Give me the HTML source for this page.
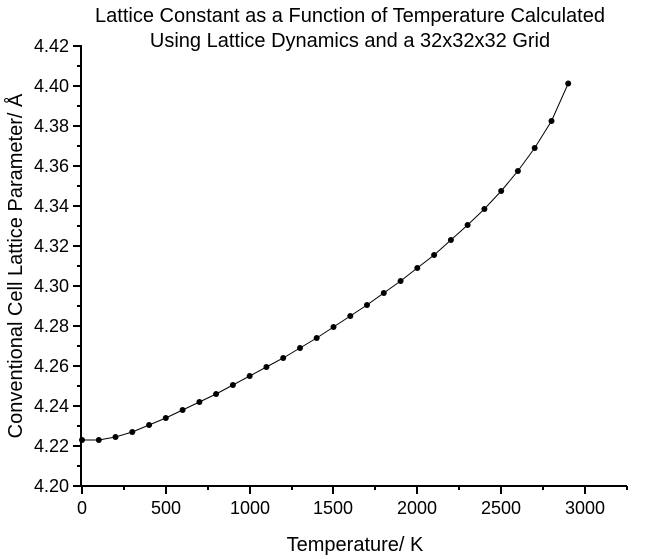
<!DOCTYPE html>
<html><head><style>body{margin:0;background:#fff}svg{display:block;font-family:"Liberation Sans",Arial,sans-serif}</style></head><body>
<svg width="666" height="559" viewBox="0 0 666 559">
<text x="350" y="22" font-size="20" text-anchor="middle">Lattice Constant as a Function of Temperature Calculated</text>
<text x="350" y="47" font-size="20" text-anchor="middle">Using Lattice Dynamics and a 32x32x32 Grid</text>
<g stroke="#000" stroke-width="2" fill="none">
<path d="M81,45V487M80,486H627"/>
<path d="M81,46h-8M81,86h-8M81,126h-8M81,166h-8M81,206h-8M81,246h-8M81,286h-8M81,326h-8M81,366h-8M81,406h-8M81,446h-8M81,486h-8"/>
<path d="M81,66h-4M81,106h-4M81,146h-4M81,186h-4M81,226h-4M81,266h-4M81,306h-4M81,346h-4M81,386h-4M81,426h-4M81,466h-4"/>
<path d="M82,486v8M166,486v8M250,486v8M333,486v8M417,486v8M501,486v8M585,486v8"/>
<path d="M124,486v4M208,486v4M292,486v4M375,486v4M459,486v4M543,486v4M627,486v4"/>
</g>
<g font-size="18" text-anchor="end">
<text x="69" y="52">4.42</text><text x="69" y="92">4.40</text><text x="69" y="132">4.38</text><text x="69" y="172">4.36</text><text x="69" y="212">4.34</text><text x="69" y="252">4.32</text><text x="69" y="292">4.30</text><text x="69" y="332">4.28</text><text x="69" y="372">4.26</text><text x="69" y="412">4.24</text><text x="69" y="452">4.22</text><text x="69" y="492">4.20</text>
</g>
<g font-size="18" text-anchor="middle">
<text x="82" y="514">0</text><text x="166" y="514">500</text><text x="250" y="514">1000</text><text x="333" y="514">1500</text><text x="417" y="514">2000</text><text x="501" y="514">2500</text><text x="585" y="514">3000</text>
</g>
<text x="355" y="551" font-size="20" text-anchor="middle">Temperature/ K</text>
<text transform="translate(22,266) rotate(-90)" font-size="20" text-anchor="middle">Conventional Cell Lattice Parameter/ Å</text>
<polyline fill="none" stroke="#000" stroke-width="1" points="82,440 98.8,440 115.5,437 132.3,432 149.1,425 165.8,418 182.6,410 199.4,402 216.1,394 232.9,385 249.7,376 266.4,367 283.2,358 300,348 316.7,338 333.5,327 350.3,316 367,305 383.8,293 400.6,281 417.3,268 434.1,255 450.9,240 467.6,225 484.4,209 501.2,191 517.9,171 534.7,148 551.5,121 568.2,83.5"/>
<g fill="#000">
<circle cx="82" cy="440" r="3"/><circle cx="98.8" cy="440" r="3"/><circle cx="115.5" cy="437" r="3"/><circle cx="132.3" cy="432" r="3"/><circle cx="149.1" cy="425" r="3"/><circle cx="165.8" cy="418" r="3"/><circle cx="182.6" cy="410" r="3"/><circle cx="199.4" cy="402" r="3"/><circle cx="216.1" cy="394" r="3"/><circle cx="232.9" cy="385" r="3"/><circle cx="249.7" cy="376" r="3"/><circle cx="266.4" cy="367" r="3"/><circle cx="283.2" cy="358" r="3"/><circle cx="300" cy="348" r="3"/><circle cx="316.7" cy="338" r="3"/><circle cx="333.5" cy="327" r="3"/><circle cx="350.3" cy="316" r="3"/><circle cx="367" cy="305" r="3"/><circle cx="383.8" cy="293" r="3"/><circle cx="400.6" cy="281" r="3"/><circle cx="417.3" cy="268" r="3"/><circle cx="434.1" cy="255" r="3"/><circle cx="450.9" cy="240" r="3"/><circle cx="467.6" cy="225" r="3"/><circle cx="484.4" cy="209" r="3"/><circle cx="501.2" cy="191" r="3"/><circle cx="517.9" cy="171" r="3"/><circle cx="534.7" cy="148" r="3"/><circle cx="551.5" cy="121" r="3"/><circle cx="568.2" cy="83.5" r="3"/>
</g>
</svg>
</body></html>
